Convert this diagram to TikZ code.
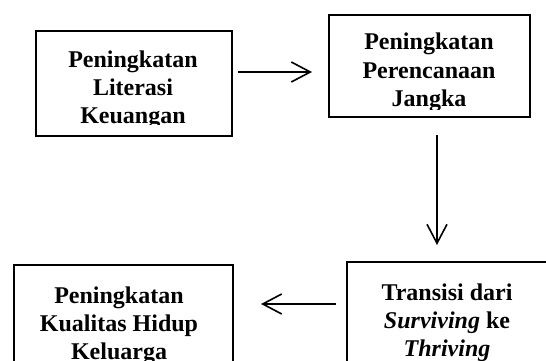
\documentclass[tikz,border=0pt]{standalone}
\usepackage{fontspec}
\setmainfont{Liberation Serif}
\usetikzlibrary{arrows.meta}
\begin{document}
\begin{tikzpicture}[x=1pt,y=1pt,
  box/.style={draw, line width=2pt, inner sep=0pt, anchor=north west},
  lbl/.style={font=\fontsize{24}{28}\selectfont\bfseries, align=center, anchor=base, inner sep=0pt},
  arr/.style={line width=1.6pt, -{Straight Barb[length=19pt,width=20pt,line width=1.6pt]}}]
\clip (0,0) rectangle (546,-361);
\fill[white] (0,0) rectangle (546,-361);
\node[box, minimum width=196pt, minimum height=105pt] (b1) at (35,-30) {};
\node[box, minimum width=201pt, minimum height=102pt] (b2) at (328,-14) {};
\node[box, minimum width=204pt, minimum height=120pt] (b3) at (346,-261) {};
\node[box, minimum width=219pt, minimum height=110pt] (b4) at (13,-264) {};
\begin{scope}
\clip (35,-30) rectangle (231,-124);
\node[lbl] (t1) at (133,-123) {Peningkatan\\Literasi\\Keuangan};
\end{scope}
\begin{scope}
\clip (328,-14) rectangle (529,-109);
\node[lbl] (t2) at (429,-106) {Peningkatan\\Perencanaan\\Jangka};
\end{scope}
\node[lbl] (t3) at (447,-356) {Transisi dari\\\textit{Surviving} ke\\\textit{Thriving}};
\node[lbl] (t4) at (119,-359) {Peningkatan\\Kualitas Hidup\\Keluarga};
\draw[arr, shorten <=5pt, shorten >=16pt] (b1.east |- 0,-72) -- (b2.west |- 0,-72);
\draw[arr, shorten <=17pt, shorten >=16pt] (b2.south -| 437,0) -- (b3.north -| 437,0);
\draw[arr, shorten <=10pt, shorten >=27pt] (b3.west |- 0,-304) -- (b4.east |- 0,-304);
\end{tikzpicture}
\end{document}
